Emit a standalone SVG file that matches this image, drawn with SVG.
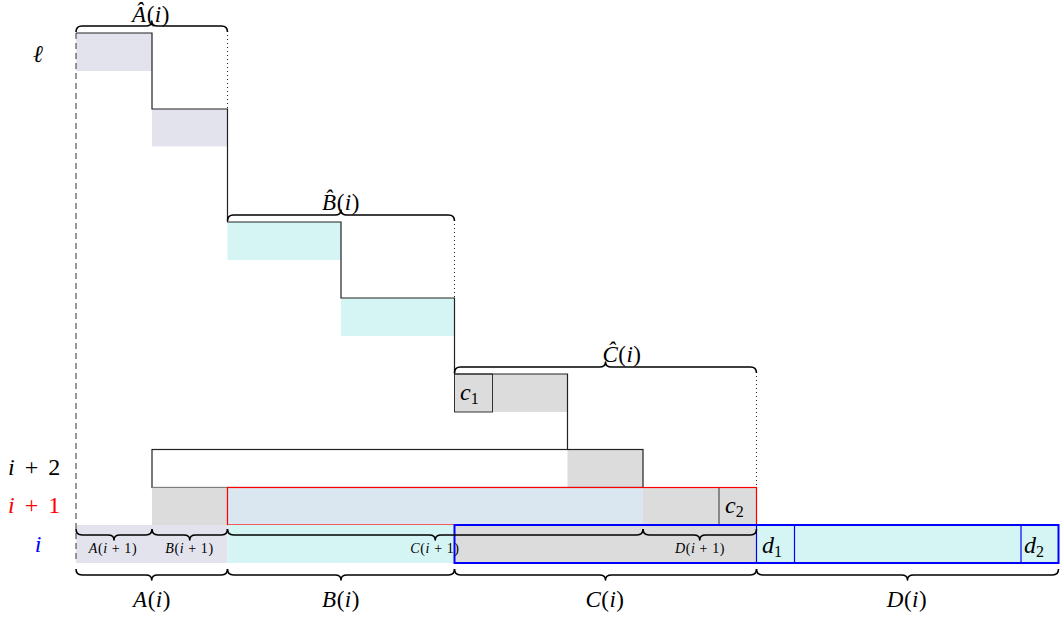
<svg xmlns="http://www.w3.org/2000/svg" width="1063" height="620" viewBox="0 0 1063 620">
  <style>
    text { font-family: "Liberation Serif", "DejaVu Serif", serif; fill: #000; }
    .it { font-style: italic; }
    .lbl { font-size: 24px; }
    .big { font-size: 23px; text-anchor: middle; letter-spacing: 0.5px; }
    .sm { font-size: 14px; text-anchor: middle; letter-spacing: 0.6px; }
    .sub { font-size: 16px; font-style: normal; }
    .lav { fill: #e3e3ee; }
    .cyan { fill: #d5f5f4; }
    .gray { fill: #dcdcdc; }
    .lblue { fill: #dae7f0; }
    .stair { fill: none; stroke: #222; stroke-width: 1.2; }
    .box { fill: none; stroke: #333; stroke-width: 1; }
    .brace { fill: none; stroke: #000; stroke-width: 1.6; stroke-linejoin: round; }
    .dot { fill: none; stroke: #222; stroke-width: 1; stroke-dasharray: 1 3; }
  </style>

  <!-- row labels -->
  <g id="row-labels">
    <text x="38" y="62" text-anchor="middle" style="font-family:'DejaVu Serif',serif;font-size:24px;font-style:italic">ℓ</text>
    <text class="lbl" x="8" y="475" word-spacing="4"><tspan class="it">i</tspan> + 2</text>
    <text class="lbl" x="8" y="513" word-spacing="4" style="fill:#ff0000"><tspan class="it">i</tspan> + 1</text>
    <text class="lbl it" x="38" y="552" text-anchor="middle" style="fill:#0000ff">i</text>
  </g>

  <!-- staircase blocks -->
  <g id="level-l">
    <rect class="lav" x="76" y="33" width="76" height="38"/>
    <rect class="lav" x="152" y="109" width="75.5" height="37.5"/>
  </g>
  <g id="level-b">
    <rect class="cyan" x="227.5" y="222" width="113.5" height="38"/>
    <rect class="cyan" x="341" y="298" width="113.5" height="38"/>
  </g>
  <g id="level-c">
    <rect class="gray" x="454.5" y="374" width="113" height="38"/>
    <rect class="box" x="454.5" y="374" width="38" height="38"/>
    <text class="lbl it" x="460" y="400">c<tspan class="sub" dy="4">1</tspan></text>
  </g>

  <!-- row i+2 -->
  <g id="row-i2">
    <rect class="gray" x="567.5" y="449.5" width="75.5" height="38"/>
    <rect fill="none" stroke="#222" stroke-width="1.2" x="152" y="449.5" width="491" height="38"/>
  </g>

  <!-- row i+1 -->
  <g id="row-i1">
    <rect class="gray" x="152" y="487.5" width="75.5" height="37.5"/>
    <rect class="lblue" x="227.5" y="487.5" width="415.5" height="37.5"/>
    <rect class="gray" x="643" y="487.5" width="113.5" height="37.5"/>
    <line x1="719" y1="487.5" x2="719" y2="525" stroke="#333" stroke-width="1"/>
    <rect fill="none" stroke="#ff0000" stroke-width="1.2" x="227.5" y="487.5" width="529" height="37.5"/>
    <text class="lbl it" x="725" y="513">c<tspan class="sub" dy="4">2</tspan></text>
  </g>

  <!-- row i -->
  <g id="row-i">
    <rect class="lav" x="76" y="525" width="151.5" height="38"/>
    <rect class="cyan" x="227.5" y="525" width="227" height="38"/>
    <rect class="gray" x="454.5" y="525" width="302" height="38"/>
    <rect class="cyan" x="756.5" y="525" width="302" height="38"/>
    <line x1="756.5" y1="525" x2="756.5" y2="563" stroke="#0000ff" stroke-width="1.2"/>
    <line x1="794.5" y1="525" x2="794.5" y2="563" stroke="#0000ff" stroke-width="1.2"/>
    <line x1="1021" y1="525" x2="1021" y2="563" stroke="#0000ff" stroke-width="1.2"/>
    <rect fill="none" stroke="#0000ff" stroke-width="2" x="454.5" y="525" width="604" height="38"/>
    <text class="lbl it" x="762" y="553">d<tspan class="sub" dy="4">1</tspan></text>
    <text class="lbl it" x="1024" y="553">d<tspan class="sub" dy="4">2</tspan></text>
  </g>

  <!-- staircase outline, guide lines and braces -->
  <g id="connectors">
    <line x1="76" y1="33" x2="76" y2="563" stroke="#555" stroke-width="1.2" stroke-dasharray="6 4"/>
    <path class="stair" d="M76 33 H152 V109 H227.5 V222 H341 V298 H454.5 V374 H567.5 V449.5"/>
    <line class="dot" x1="227.5" y1="35" x2="227.5" y2="109"/>
    <line class="dot" x1="454.5" y1="224" x2="454.5" y2="298"/>
    <line class="dot" x1="756.5" y1="376" x2="756.5" y2="487.5"/>

    <!-- braces over the staircase -->
    <path class="brace" d="M76 32 Q76 26 82 26 H145.75 Q151.75 26 151.75 21 Q151.75 26 157.75 26 H221.5 Q227.5 26 227.5 32"/>
    <path class="brace" d="M227.5 221 Q227.5 215 233.5 215 H335 Q341 215 341 210 Q341 215 347 215 H448.5 Q454.5 215 454.5 221"/>
    <path class="brace" d="M454.5 373 Q454.5 367 460.5 367 H599.5 Q605.5 367 605.5 362 Q605.5 367 611.5 367 H750.5 Q756.5 367 756.5 373"/>

    <!-- braces under row i+1 -->
    <path class="brace" d="M76 529 Q76 535 82 535 H108 Q114 535 114 540 Q114 535 120 535 H146 Q152 535 152 529"/>
    <path class="brace" d="M152 529 Q152 535 158 535 H183.75 Q189.75 535 189.75 540 Q189.75 535 195.75 535 H221.5 Q227.5 535 227.5 529"/>
    <path class="brace" d="M227.5 529 Q227.5 535 233.5 535 H429.25 Q435.25 535 435.25 540 Q435.25 535 441.25 535 H637 Q643 535 643 529"/>
    <path class="brace" d="M643 529 Q643 535 649 535 H693.75 Q699.75 535 699.75 540 Q699.75 535 705.75 535 H750.5 Q756.5 535 756.5 529"/>

    <!-- braces under row i -->
    <path class="brace" d="M76 569 Q76 575 82 575 H145.75 Q151.75 575 151.75 580 Q151.75 575 157.75 575 H221.5 Q227.5 575 227.5 569"/>
    <path class="brace" d="M227.5 569 Q227.5 575 233.5 575 H335 Q341 575 341 580 Q341 575 347 575 H448.5 Q454.5 575 454.5 569"/>
    <path class="brace" d="M454.5 569 Q454.5 575 460.5 575 H599.5 Q605.5 575 605.5 580 Q605.5 575 611.5 575 H750.5 Q756.5 575 756.5 569"/>
    <path class="brace" d="M756.5 569 Q756.5 575 762.5 575 H901.5 Q907.5 575 907.5 580 Q907.5 575 913.5 575 H1052.5 Q1058.5 575 1058.5 569"/>
  </g>

  <!-- brace labels -->
  <g id="brace-labels">
    <text class="big" x="151" y="22"><tspan class="it">Â</tspan>(<tspan class="it">i</tspan>)</text>
    <text class="big" x="341" y="210"><tspan class="it">B̂</tspan>(<tspan class="it">i</tspan>)</text>
    <text class="big" x="622" y="362"><tspan class="it">Ĉ</tspan>(<tspan class="it">i</tspan>)</text>

    <text class="sm" x="113" y="553"><tspan class="it">A</tspan>(<tspan class="it">i</tspan> + 1)</text>
    <text class="sm" x="189.5" y="553"><tspan class="it">B</tspan>(<tspan class="it">i</tspan> + 1)</text>
    <text class="sm" x="435" y="553"><tspan class="it">C</tspan>(<tspan class="it">i</tspan> + 1)</text>
    <text class="sm" x="700" y="553"><tspan class="it">D</tspan>(<tspan class="it">i</tspan> + 1)</text>

    <text class="big" x="152" y="607"><tspan class="it">A</tspan>(<tspan class="it">i</tspan>)</text>
    <text class="big" x="341" y="607"><tspan class="it">B</tspan>(<tspan class="it">i</tspan>)</text>
    <text class="big" x="605" y="607"><tspan class="it">C</tspan>(<tspan class="it">i</tspan>)</text>
    <text class="big" x="907" y="607"><tspan class="it">D</tspan>(<tspan class="it">i</tspan>)</text>
  </g>
</svg>
